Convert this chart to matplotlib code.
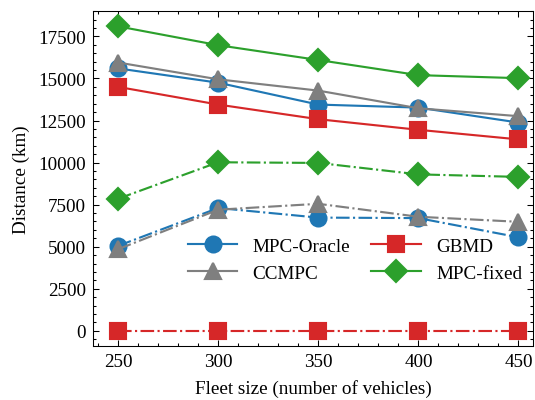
import numpy as np
import matplotlib
matplotlib.use("Agg")
import matplotlib.pyplot as plt
from matplotlib.ticker import AutoMinorLocator, MultipleLocator

fleet = [250, 300, 350, 400, 450]

# solid lines
oracle = [15600, 14750, 13450, 13270, 12380]
gbmd = [14500, 13450, 12580, 11950, 11380]
ccmpc = [15950, 14950, 14280, 13230, 12760]
fixed = [18100, 16980, 16100, 15200, 15020]

# dash-dot lines
oracle_dd = [5050, 7300, 6730, 6700, 5560]
gbmd_dd = [0, 0, 0, 0, 0]
ccmpc_dd = [4850, 7200, 7550, 6780, 6480]
fixed_dd = [7850, 10020, 9980, 9300, 9150]

plt.rcParams["font.family"] = ["Liberation Serif", "DejaVu Serif"]
plt.rcParams["font.size"] = 9
plt.rcParams["axes.linewidth"] = 0.5
plt.rcParams["xtick.direction"] = "in"
plt.rcParams["ytick.direction"] = "in"
plt.rcParams["xtick.top"] = True
plt.rcParams["ytick.right"] = True
plt.rcParams["xtick.major.size"] = 3
plt.rcParams["ytick.major.size"] = 3
plt.rcParams["xtick.minor.size"] = 1.5
plt.rcParams["ytick.minor.size"] = 1.5
plt.rcParams["xtick.major.width"] = 0.5
plt.rcParams["ytick.major.width"] = 0.5
plt.rcParams["xtick.minor.width"] = 0.5
plt.rcParams["ytick.minor.width"] = 0.5

fig = plt.figure(figsize=(3.5, 2.62), dpi=153)
ax = fig.add_axes([93/535, 1-347/401, 440/535, 335/401])

blue, red, gray, green = "#1f77b4", "#d62728", "#7f7f7f", "#2ca02c"
ms = 7.5
lw = 1.0
ax.plot(fleet, oracle, "-", marker="o", color=blue, ms=ms, lw=lw, label="MPC-Oracle")
ax.plot(fleet, ccmpc, "-", marker="^", color=gray, ms=ms, lw=lw, label="CCMPC")
ax.plot(fleet, gbmd, "-", marker="s", color=red, ms=ms, lw=lw, label="GBMD")
ax.plot(fleet, fixed, "-", marker="D", color=green, ms=ms, lw=lw, label="MPC-fixed")
ax.plot(fleet, oracle_dd, "-.", marker="o", color=blue, ms=ms, lw=lw)
ax.plot(fleet, ccmpc_dd, "-.", marker="^", color=gray, ms=ms, lw=lw)
ax.plot(fleet, gbmd_dd, "-.", marker="s", color=red, ms=ms, lw=lw)
ax.plot(fleet, fixed_dd, "-.", marker="D", color=green, ms=ms, lw=lw)

ax.set_xlim(237.5, 457.5)
ax.set_ylim(-905, 19005)
ax.xaxis.set_major_locator(MultipleLocator(50))
ax.xaxis.set_minor_locator(MultipleLocator(10))
ax.yaxis.set_major_locator(MultipleLocator(2500))
ax.yaxis.set_minor_locator(AutoMinorLocator(5))

ax.set_xlabel("Fleet size (number of vehicles)")
ax.set_ylabel("Distance (km)")
ax.legend(ncol=2, frameon=False, loc="center", bbox_to_anchor=(0.595, 0.257),
          columnspacing=1.1, handlelength=2.6, labelspacing=0.5)

fig.savefig("out.png", dpi=153)
